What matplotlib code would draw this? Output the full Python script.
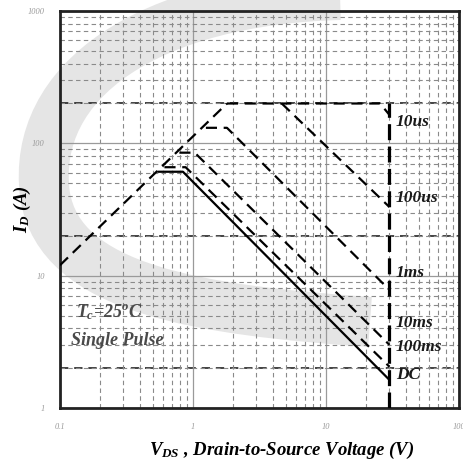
import numpy as np
import matplotlib
matplotlib.use("Agg")
import matplotlib.pyplot as plt
from matplotlib.path import Path
from matplotlib.patches import PathPatch

plt.rcParams["font.family"] = ["Liberation Serif", "DejaVu Serif"]
plt.rcParams["mathtext.fontset"] = "custom"
plt.rcParams["mathtext.rm"] = "Liberation Serif:italic:bold"
plt.rcParams["mathtext.it"] = "Liberation Serif:italic:bold"
plt.rcParams["mathtext.bf"] = "Liberation Serif:italic:bold"

# SOA curves (V in volts, I in amps)
rds_v = [0.1, 1.8]
rds_i = [12, 200]

curve_names = ["10us", "100us", "1ms", "10ms", "100ms", "DC"]
curve_v = [
    [1.8, 25.5, 30],
    [4.65, 30],
    [1.25, 1.80, 30],
    [0.79, 1.03, 30],
    [0.61, 0.88, 30],
    [0.55, 0.84, 30],
]
curve_i = [
    [200, 200, 164],
    [200, 33],
    [131, 131, 7.8],
    [85, 85, 3.0],
    [66, 66, 2.05],
    [61, 61, 1.63],
]
label_y = [145, 38.7, 10.5, 4.4, 2.9, 1.78]

vds_max = 30
vds_line_i = [1, 200]
heavy_grid_i = [2, 20, 200]

x_ticks = [0.1, 1, 10, 100]
x_tick_labels = ["0.1", "1", "10", "100"]
y_ticks = [1, 10, 100, 1000]
y_tick_labels = ["1", "10", "100", "1000"]

fig = plt.figure(figsize=(4.63, 4.66), dpi=100)

# light gray watermark swirl in the background
W, H = 463.0, 466.0
pts = [(340, -5), (150, 0), (30, 80), (45, 195), (60, 290), (200, 310), (370, 322)]
pts = [(x / W, 1 - y / H) for x, y in pts]
codes = [Path.MOVETO] + [Path.CURVE4] * 6
fig.add_artist(PathPatch(Path(pts, codes), transform=fig.transFigure, fill=False,
                         edgecolor="#e5e5e5", lw=36, capstyle="butt", zorder=0))

ax = fig.add_axes([60 / W, 1 - 408 / H, 399 / W, 397 / H])
ax.set_facecolor("none")
ax.set_xscale("log")
ax.set_yscale("log")
ax.set_xlim(0.1, 100)
ax.set_ylim(1, 1000)

# grid
ax.grid(which="major", color="#9a9a9a", lw=0.9, ls="-")
ax.grid(which="minor", color="#8a8a8a", lw=0.8, ls=(0, (4, 3)))
for yv in heavy_grid_i:
    ax.axhline(yv, color="#222222", lw=1.2, ls=(0, (5, 3.5)), zorder=1)

# Rds(on) limit
ax.plot(rds_v, rds_i, color="black", lw=1.6, ls=(0, (5, 3)), zorder=3)

for name, v, i in zip(curve_names, curve_v, curve_i):
    ls = "-" if name == "DC" else (0, (5, 3))
    ax.plot(v, i, color="black", lw=1.6, ls=ls, zorder=3)

ax.plot([vds_max, vds_max], vds_line_i, color="black", lw=2.3, ls=(0, (5, 2)), zorder=3)

for name, yv in zip(curve_names, label_y):
    ax.text(33.5, yv, name, fontsize=12.5, fontweight="bold", fontstyle="italic",
            color="#1a1a1a", va="center", ha="left", zorder=4)

ax.text(0.132, 5.3, r"$T_{c}$=25$^{o}$C", fontsize=13, fontweight="bold",
        fontstyle="italic", color="#4a4a4a", va="center", ha="left")
ax.text(0.121, 3.25, "Single Pulse", fontsize=13, fontweight="bold",
        fontstyle="italic", color="#4a4a4a", va="center", ha="left")

ax.set_xticks(x_ticks)
ax.set_xticklabels(x_tick_labels)
ax.set_yticks(y_ticks)
ax.set_yticklabels(y_tick_labels)
ax.tick_params(which="both", length=0, labelsize=6, labelcolor="#9a9a9a", pad=11)
for lab in ax.get_xticklabels() + ax.get_yticklabels():
    lab.set_fontstyle("italic")

for s in ax.spines.values():
    s.set_linewidth(2.0)
    s.set_color("#222222")

ax.set_xlabel(r"$V_{DS}$ , Drain-to-Source Voltage (V)", fontsize=13.5,
              fontweight="bold", fontstyle="italic", va="center")
ax.xaxis.set_label_coords(0.556, -0.106)
ax.set_ylabel(r"$I_{D}$ (A)", fontsize=13.5, fontweight="bold", fontstyle="italic",
              va="center")
ax.yaxis.set_label_coords(-0.093, 0.5)

fig.savefig("out.png", dpi=100)
